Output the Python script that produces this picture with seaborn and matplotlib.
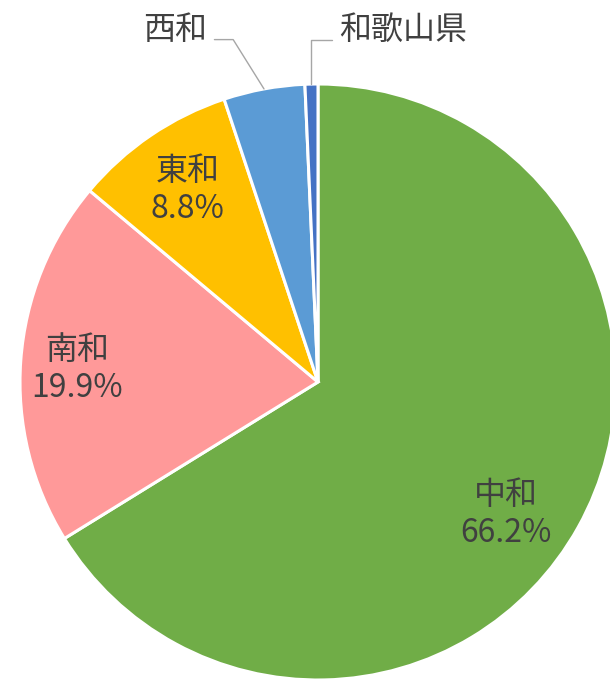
import matplotlib
matplotlib.use('Agg')
import numpy as np
import matplotlib.pyplot as plt
import seaborn as sns

# 地域別の割合 (%)
regions = ['中和', '南和', '東和', '西和', '和歌山県']
shares = [66.2, 19.9, 8.8, 4.4, 0.7]
colors = ['#70AD47', '#FF9999', '#FFC000', '#5B9BD5', '#4472C4']

sns.set_style('white')
plt.rcParams['font.family'] = ['Noto Sans CJK JP', 'DejaVu Sans']

W, H = 610, 683
cx, cy, r = 318, 382, 298   # pie centre / radius in pixels


def px(x, y):
    # pixel position (from top-left) -> data coords
    return (x - cx) / r, (cy - y) / r


fig = plt.figure(figsize=(W / 100, H / 100), dpi=100)
ax = fig.add_axes([0, 0, 1, 1])
wedges, _ = ax.pie(shares, colors=colors, startangle=90, counterclock=False,
                   wedgeprops=dict(edgecolor='white', linewidth=2.2))
ax.set_xlim(-cx / r, (W - cx) / r)
ax.set_ylim(-(H - cy) / r, cy / r)
ax.set_aspect('equal')
ax.axis('off')

txt = '#404040'
fs = 23
# label distance and angle nudge for the inside labels
inner = [(0.77, -6), (0.81, 1), (0.78, 0)]
for w, name, s, (d, da) in zip(wedges[:3], regions[:3], shares[:3], inner):
    a = np.deg2rad((w.theta1 + w.theta2) / 2 + da)
    ax.text(d * np.cos(a), d * np.sin(a), f'{name}\n{s:.1f}%',
            ha='center', va='center', fontsize=fs, color=txt, linespacing=1.25)

# small slices: labels outside with leader lines
lead = dict(arrowstyle='-', color='#A6A6A6', lw=1, shrinkA=3, shrinkB=0)
w = wedges[3]
a = np.deg2rad((w.theta1 + w.theta2) / 2)
ax.annotate(regions[3], xy=(np.cos(a), np.sin(a)), xytext=px(175, 30),
            ha='center', va='center', fontsize=fs, color=txt,
            arrowprops=dict(lead, relpos=(1, 0.2),
                            connectionstyle='angle,angleA=0,angleB=-58,rad=0'))
w = wedges[4]
a = np.deg2rad((w.theta1 + w.theta2) / 2)
ax.annotate(regions[4], xy=(np.cos(a), np.sin(a)), xytext=px(403, 30),
            ha='center', va='center', fontsize=fs, color=txt,
            arrowprops=dict(lead, relpos=(0, 0.2),
                            connectionstyle='angle,angleA=0,angleB=90,rad=0'))

fig.savefig('out.png', dpi=100)
